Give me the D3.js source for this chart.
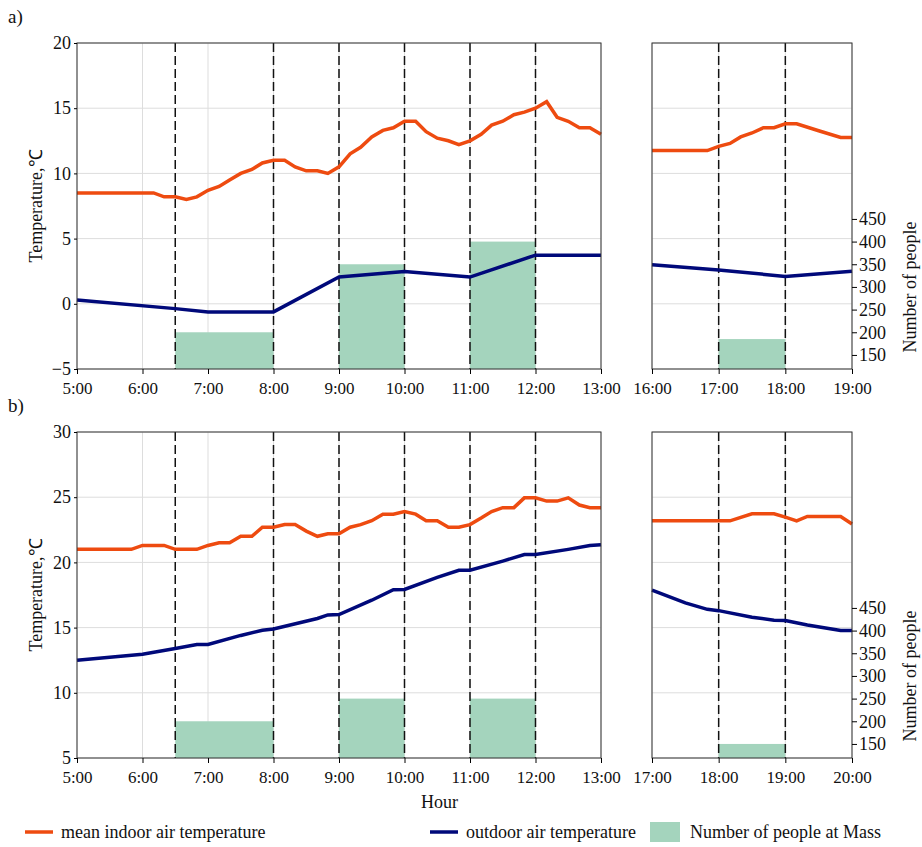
<!DOCTYPE html>
<html><head><meta charset="utf-8">
<script src="https://cdn.jsdelivr.net/npm/d3@7"></script>
<style>body{margin:0;background:#fff}</style>
</head><body><svg id="chart" width="922" height="847"></svg>
<script>
// panel a, morning (hour, °C)
const aInHours = [5,6.17,6.33,6.5,6.67,6.83,7,7.17,7.33,7.5,7.67,7.83,8,8.17,8.33,8.5,8.67,8.83,9,9.17,9.33,9.5,9.67,9.83,10,10.17,10.33,10.5,10.67,10.83,11,11.17,11.33,11.5,11.67,11.83,12,12.17,12.33,12.5,12.67,12.83,13]
const aInTemp = [8.5,8.5,8.2,8.2,8.0,8.2,8.7,9.0,9.5,10.0,10.3,10.8,11.0,11.0,10.5,10.2,10.2,10.0,10.5,11.5,12.0,12.8,13.3,13.5,14.0,14.0,13.2,12.7,12.5,12.2,12.5,13.0,13.7,14.0,14.5,14.7,15.0,15.5,14.3,14.0,13.5,13.5,13.0]
const aOutHours = [5,6.5,7,8,9,10,11,12,13]
const aOutTemp = [0.3,-0.37,-0.62,-0.62,2.05,2.48,2.05,3.73,3.73]
// panel a, evening
const aEInHours = [16,16.83,17,17.17,17.33,17.5,17.67,17.83,18,18.17,18.5,18.83,19]
const aEInTemp = [11.75,11.75,12.07,12.3,12.8,13.1,13.5,13.5,13.8,13.8,13.27,12.76,12.76]
const aEOutHours = [16,17,18,19]
const aEOutTemp = [3.0,2.6,2.1,2.5]
// panel b, morning
const bInHours = [5,5.83,6,6.33,6.5,6.83,7,7.17,7.33,7.5,7.67,7.83,8,8.17,8.33,8.5,8.67,8.83,9,9.17,9.33,9.5,9.67,9.83,10,10.17,10.33,10.5,10.67,10.83,11,11.17,11.33,11.5,11.67,11.83,12,12.17,12.33,12.5,12.67,12.83,13]
const bInTemp = [21.0,21.0,21.3,21.3,21.0,21.0,21.3,21.5,21.5,22.0,22.0,22.7,22.7,22.9,22.9,22.4,22.0,22.2,22.2,22.7,22.9,23.2,23.7,23.7,23.9,23.7,23.2,23.2,22.7,22.7,22.9,23.4,23.9,24.2,24.2,24.95,24.95,24.7,24.7,24.95,24.4,24.2,24.2]
const bOutHours = [5,6,6.5,6.83,7,7.5,7.83,8,8.67,8.83,9,9.5,9.83,10,10.5,10.83,11,11.5,11.83,12,12.5,12.83,13]
const bOutTemp = [12.5,12.96,13.4,13.7,13.7,14.4,14.8,14.9,15.7,15.97,16.0,17.1,17.9,17.93,18.85,19.4,19.4,20.1,20.6,20.6,21.0,21.3,21.35]
// panel b, evening
const bEInHours = [17,18,18.17,18.5,18.83,19,19.17,19.33,19.83,20]
const bEInTemp = [23.19,23.19,23.19,23.73,23.73,23.47,23.19,23.52,23.52,22.95]
const bEOutHours = [17,17.5,17.83,18,18.5,18.83,19,19.33,19.83,20]
const bEOutTemp = [17.88,16.9,16.4,16.3,15.8,15.57,15.54,15.2,14.77,14.77]
// people at Mass [start, end, count]
const aMass = [[6.5,8,200],[9,10,350],[11,12,400]]
const aEMass = [[17,18,185]]
const bMass = [[6.5,8,200],[9,10,250],[11,12,250]]
const bEMass = [[18,19,150]]
const peopleTicks = [150,200,250,300,350,400,450]

const ORANGE = '#ee4b10', NAVY = '#00097a', GREEN = '#a4d4bd'
const FONT = 'Liberation Serif'
const svg = d3.select('#chart')

function serif (sel, size) {
  sel.selectAll('text').attr('font-family', FONT).attr('font-size', size).attr('fill', '#111')
}

function panel (top, yDom, left, leftDom, mass, inH, inT, outH, outT, dashes) {
  const h = 326
  const y = d3.scaleLinear().domain(yDom).range([top + h, top])
  const p = d3.scaleLinear().domain([119, 838]).range([top + h, top])
  const [x0, x1] = left
  const x = d3.scaleLinear().domain(leftDom).range([x0, x1])
  const g = svg.append('g')
  const hours = d3.range(leftDom[0], leftDom[1] + 0.01, 1)
  g.selectAll('.vg').data(hours).join('line')
    .attr('x1', d => x(d)).attr('x2', d => x(d)).attr('y1', top).attr('y2', top + h)
    .attr('stroke', '#ddd')
  g.selectAll('.hg').data(y.ticks(5)).join('line')
    .attr('x1', x0).attr('x2', x1).attr('y1', d => y(d)).attr('y2', d => y(d))
    .attr('stroke', '#ddd')
  g.selectAll('rect.m').data(mass).join('rect')
    .attr('x', d => x(d[0])).attr('width', d => x(d[1]) - x(d[0]))
    .attr('y', d => p(d[2])).attr('height', d => top + h - p(d[2]))
    .attr('fill', GREEN)
  g.selectAll('.dash').data(dashes).join('line')
    .attr('x1', d => x(d)).attr('x2', d => x(d)).attr('y1', top).attr('y2', top + h)
    .attr('stroke', '#111').attr('stroke-width', 1.5).attr('stroke-dasharray', '9,4')
  const line = d3.line().x(d => x(d[0])).y(d => y(d[1]))
  g.append('path').attr('d', line(d3.zip(outH, outT))).attr('fill', 'none')
    .attr('stroke', NAVY).attr('stroke-width', 3.5)
  g.append('path').attr('d', line(d3.zip(inH, inT))).attr('fill', 'none')
    .attr('stroke', ORANGE).attr('stroke-width', 3.5)
  g.append('rect').attr('x', x0).attr('y', top).attr('width', x1 - x0).attr('height', h)
    .attr('fill', 'none').attr('stroke', '#333')
  const xa = g.append('g').attr('transform', `translate(0,${top + h})`)
    .call(d3.axisBottom(x).tickValues(hours).tickSize(5).tickFormat(d => d + ':00'))
  xa.select('.domain').remove()
  serif(xa, 17)
  xa.selectAll('text').attr('dy', '1em')
  return { y, p, x }
}

function label (x, y, text, size, rot) {
  svg.append('text').attr('transform', `translate(${x},${y})` + (rot ? ' rotate(-90)' : ''))
    .attr('text-anchor', rot ? 'middle' : 'start').attr('font-family', FONT)
    .attr('font-size', size).attr('fill', '#111').text(text)
}

function row (top, yDom, eDom, masses, data, dashA, dashB, name) {
  const A = panel(top, yDom, [77, 601], [5, 13], masses[0], ...data[0], dashA)
  panel(top, yDom, [652, 852], eDom, masses[1], ...data[1], dashB)
  const ya = svg.append('g').attr('transform', 'translate(77,0)')
    .call(d3.axisLeft(A.y).ticks(5).tickSize(3))
  ya.select('.domain').remove()
  serif(ya, 18)
  const pa = svg.append('g').attr('transform', 'translate(852,0)')
    .call(d3.axisRight(A.p).tickValues(peopleTicks).tickSize(5))
  pa.select('.domain').remove()
  serif(pa, 18)
  pa.selectAll('text').attr('x', 7)
  label(42, top + 163, 'Temperature,℃', 18, true)
  label(916, A.p(300), 'Number of people', 18, true)
  label(8, top - 20, name, 19, false)
}

row(43, [-5, 20], [16, 19], [aMass, aEMass],
  [[aInHours, aInTemp, aOutHours, aOutTemp], [aEInHours, aEInTemp, aEOutHours, aEOutTemp]],
  [6.5, 8, 9, 10, 11, 12], [17, 18], 'a)')
row(432, [5, 30], [17, 20], [bMass, bEMass],
  [[bInHours, bInTemp, bOutHours, bOutTemp], [bEInHours, bEInTemp, bEOutHours, bEOutTemp]],
  [6.5, 8, 9, 10, 11, 12], [18, 19], 'b)')

label(421, 808, 'Hour', 18, false)

const legend = [
  { x: 25, kind: 'line', color: ORANGE, label: 'mean indoor air temperature' },
  { x: 430, kind: 'line', color: NAVY, label: 'outdoor air temperature' },
  { x: 650, kind: 'rect', color: GREEN, label: 'Number of people at Mass' }
]
const lg = svg.selectAll('.lg').data(legend).join('g')
  .attr('transform', d => `translate(${d.x},832)`)
lg.filter(d => d.kind === 'line').append('line')
  .attr('x1', 0).attr('x2', 28).attr('stroke', d => d.color).attr('stroke-width', 3.5)
lg.filter(d => d.kind === 'rect').append('rect')
  .attr('x', 0).attr('y', -10).attr('width', 30).attr('height', 20).attr('fill', d => d.color)
lg.append('text').attr('x', d => d.kind === 'rect' ? 40 : 36).attr('y', 6)
  .attr('font-family', FONT).attr('font-size', 18).attr('fill', '#111').text(d => d.label)
</script></body></html>
